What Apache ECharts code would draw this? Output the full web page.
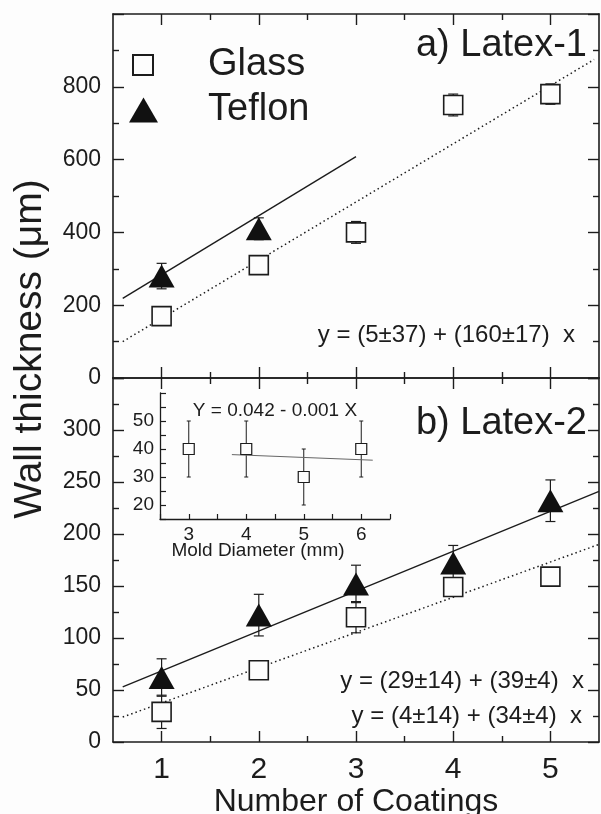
<!DOCTYPE html>
<html>
<head>
<meta charset="utf-8">
<script src="https://cdn.jsdelivr.net/npm/echarts@6/dist/echarts.min.js"></script>
<style>
  html, body { margin: 0; padding: 0; background: #fdfdfd; }
  #chart { width: 601px; height: 814px; }
</style>
</head>
<body>
<div id="chart"></div>
<script>
// data
const coatings = [1, 2, 3, 4, 5];

// a) Latex-1
const glassA = [170, 310, 400, 750, 780];
const glassAErr = [18, 15, 30, 30, 28];
const teflonAX = [1, 2];
const teflonA = [280, 410];
const teflonAErr = [35, 30];
const fitGlassA = [[0.6, 100], [5.45, 875]];
const fitTeflonA = [[0.6, 219], [3.0, 608]];

// b) Latex-2
const glassB = [29, 69, 120, 149, 159];
const glassBErr = [16, 8, 15, 8, 8];
const teflonB = [62, 122, 152, 172, 232];
const teflonBErr = [18, 20, 18, 17, 20];
const fitGlassB = [[0.6, 24], [5.5, 190]];
const fitTeflonB = [[0.6, 53], [5.5, 241]];

// inset
const moldDiam = [3, 4, 5, 6];
const insetVals = [40, 40, 30, 40];
const insetErr = [10, 10, 10, 10];
const insetFit = [[3.75, 38], [6.2, 36]];

// tick labels
const xTicksMajor = [1, 2, 3, 4, 5];
const xTicksMinor = [1.5, 2.5, 3.5, 4.5];
const insetYLabels = [20, 30, 40, 50];

const FONT = "'Liberation Sans', Arial, Helvetica, sans-serif";
const INK = '#1c1c1c';
const PAPER = '#fdfdfd';

function pts(xs, ys) {
    let out = [];
    for (let i = 0; i < xs.length; i++) {
        out.push([xs[i], ys[i]]);
    }
    return out;
}

function errData(xs, ys, es) {
    let out = [];
    for (let i = 0; i < xs.length; i++) {
        out.push([xs[i], ys[i], es[i]]);
    }
    return out;
}

function errSeries(data, xi, yi, capHalf, width) {
    return {
        type: 'custom',
        xAxisIndex: xi,
        yAxisIndex: yi,
        z: 1,
        silent: true,
        data: data,
        renderItem: function (params, api) {
            const x = api.value(0), y = api.value(1), e = api.value(2);
            const hi = api.coord([x, y + e]);
            const lo = api.coord([x, y - e]);
            const st = {stroke: INK, lineWidth: width};
            return {
                type: 'group',
                children: [
                    {type: 'line', shape: {x1: hi[0], y1: hi[1], x2: lo[0], y2: lo[1]}, style: st},
                    {type: 'line', shape: {x1: hi[0] - capHalf, y1: hi[1], x2: hi[0] + capHalf, y2: hi[1]}, style: st},
                    {type: 'line', shape: {x1: lo[0] - capHalf, y1: lo[1], x2: lo[0] + capHalf, y2: lo[1]}, style: st}
                ]
            };
        }
    };
}

// x axis pair (major / minor ticks) for one edge of a panel
function xEdge(grid, pos, major, showLabel) {
    let ax = {
        type: 'value',
        gridIndex: grid,
        position: pos,
        min: 0.5,
        max: 5.5,
        interval: 0.5,
        splitLine: {show: false},
        axisLine: {show: major, lineStyle: {color: INK, width: 1.6}},
        axisTick: {
            show: true,
            inside: true,
            length: major ? 11 : 6,
            customValues: major ? xTicksMajor : xTicksMinor,
            lineStyle: {color: INK, width: 1.4}
        },
        axisLabel: {show: false}
    };
    if (showLabel) {
        ax.axisLabel = {
            show: true,
            customValues: xTicksMajor,
            fontSize: 30,
            fontFamily: FONT,
            color: INK,
            margin: 13
        };
        ax.name = 'Number of Coatings';
        ax.nameLocation = 'middle';
        ax.nameGap = 40;
        ax.nameTextStyle = {fontSize: 32, fontFamily: FONT, color: INK};
    }
    return ax;
}

function yEdge(grid, pos, max, interval, showLabel) {
    return {
        type: 'value',
        gridIndex: grid,
        position: pos,
        min: 0,
        max: max,
        interval: interval,
        splitLine: {show: false},
        axisLine: {show: true, lineStyle: {color: INK, width: 1.6}},
        axisTick: {show: true, inside: true, length: 11, lineStyle: {color: INK, width: 1.4}},
        minorTick: {show: true, splitNumber: 2, length: 6, lineStyle: {color: INK, width: 1.4}},
        axisLabel: {
            show: showLabel,
            fontSize: 23,
            fontFamily: FONT,
            color: INK,
            margin: 12,
            formatter: function (v) {
                return v === max ? '' : String(v);
            }
        }
    };
}

const chart = echarts.init(document.getElementById('chart'));

const glassStyle = {color: PAPER, borderColor: INK, borderWidth: 1.6, opacity: 1};
const teflonStyle = {color: '#111', opacity: 1};

const option = {
    backgroundColor: PAPER,
    animation: false,
    textStyle: {fontFamily: FONT},
    grid: [
        {left: 113, top: 14, width: 486, height: 364, outerBoundsMode: 'none', containLabel: false},
        {left: 113, top: 378, width: 486, height: 364, outerBoundsMode: 'none', containLabel: false},
        {left: 160, top: 393, width: 230, height: 126, outerBoundsMode: 'none', containLabel: false}
    ],
    legend: [
        {
            data: ['Glass'],
            selectedMode: false,
            left: 132, top: 45, padding: 0,
            itemWidth: 20, itemHeight: 20,
            itemStyle: {opacity: 1},
            textStyle: {fontSize: 38, fontFamily: FONT, color: INK, padding: [0, 0, 0, 50], lineHeight: 40}
        },
        {
            data: ['Teflon'],
            selectedMode: false,
            left: 129, top: 90, padding: 0,
            itemWidth: 29, itemHeight: 25,
            itemStyle: {opacity: 1},
            textStyle: {fontSize: 38, fontFamily: FONT, color: INK, padding: [0, 0, 0, 45], lineHeight: 40}
        }
    ],
    xAxis: [
        xEdge(0, 'bottom', true, false),
        xEdge(0, 'bottom', false, false),
        xEdge(0, 'top', true, false),
        xEdge(0, 'top', false, false),
        xEdge(1, 'bottom', true, true),
        xEdge(1, 'bottom', false, false),
        xEdge(1, 'top', true, false),
        xEdge(1, 'top', false, false),
        {
            type: 'value',
            gridIndex: 2,
            min: 2.5,
            max: 6.5,
            interval: 0.5,
            splitLine: {show: false},
            axisLine: {show: true, lineStyle: {color: INK, width: 1.3}},
            axisTick: {show: true, inside: true, length: 5, lineStyle: {color: INK, width: 1.2}},
            axisLabel: {
                fontSize: 19, fontFamily: FONT, color: INK, margin: 6,
                formatter: function (v) {
                    return (v % 1 === 0) ? String(v) : '';
                }
            }
        }
    ],
    yAxis: [
        yEdge(0, 'left', 1000, 200, true),
        yEdge(0, 'right', 1000, 200, false),
        yEdge(1, 'left', 350, 50, true),
        yEdge(1, 'right', 350, 50, false),
        {
            type: 'value',
            gridIndex: 2,
            min: 15,
            max: 60,
            interval: 5,
            splitLine: {show: false},
            axisLine: {show: true, lineStyle: {color: INK, width: 1.3}},
            axisTick: {show: true, inside: true, length: 6, lineStyle: {color: INK, width: 1.2}},
            axisLabel: {
                fontSize: 19, fontFamily: FONT, color: INK, margin: 6,
                formatter: function (v) {
                    return insetYLabels.indexOf(v) >= 0 ? String(v) : '';
                }
            }
        }
    ],
    series: [
        // panel a
        {
            type: 'line', xAxisIndex: 0, yAxisIndex: 0, data: fitGlassA,
            symbol: 'none', silent: true, z: 1,
            lineStyle: {color: INK, width: 1.5, type: [1.5, 3]}
        },
        {
            type: 'line', xAxisIndex: 0, yAxisIndex: 0, data: fitTeflonA,
            symbol: 'none', silent: true, z: 1,
            lineStyle: {color: INK, width: 1.4}
        },
        errSeries(errData(coatings, glassA, glassAErr), 0, 0, 5, 1.2),
        errSeries(errData(teflonAX, teflonA, teflonAErr), 0, 0, 5, 1.2),
        {
            name: 'Glass', type: 'scatter', xAxisIndex: 0, yAxisIndex: 0,
            data: pts(coatings, glassA), symbol: 'rect', symbolSize: 19, z: 3,
            itemStyle: glassStyle
        },
        {
            name: 'Teflon', type: 'scatter', xAxisIndex: 0, yAxisIndex: 0,
            data: pts(teflonAX, teflonA), symbol: 'triangle', symbolSize: [26, 23], z: 3,
            itemStyle: teflonStyle
        },
        // panel b
        {
            type: 'line', xAxisIndex: 4, yAxisIndex: 2, data: fitGlassB,
            symbol: 'none', silent: true, z: 1,
            lineStyle: {color: INK, width: 1.5, type: [1.5, 3]}
        },
        {
            type: 'line', xAxisIndex: 4, yAxisIndex: 2, data: fitTeflonB,
            symbol: 'none', silent: true, z: 1,
            lineStyle: {color: INK, width: 1.4}
        },
        errSeries(errData(coatings, glassB, glassBErr), 4, 2, 5, 1.2),
        errSeries(errData(coatings, teflonB, teflonBErr), 4, 2, 5, 1.2),
        {
            name: 'Glass', type: 'scatter', xAxisIndex: 4, yAxisIndex: 2,
            data: pts(coatings, glassB), symbol: 'rect', symbolSize: 19, z: 3,
            itemStyle: glassStyle
        },
        {
            name: 'Teflon', type: 'scatter', xAxisIndex: 4, yAxisIndex: 2,
            data: pts(coatings, teflonB), symbol: 'triangle', symbolSize: [26, 23], z: 3,
            itemStyle: teflonStyle
        },
        // inset
        {
            type: 'line', xAxisIndex: 8, yAxisIndex: 4, data: insetFit,
            symbol: 'none', silent: true, z: 1,
            lineStyle: {color: '#666', width: 1}
        },
        errSeries(errData(moldDiam, insetVals, insetErr), 8, 4, 2, 1),
        {
            type: 'scatter', xAxisIndex: 8, yAxisIndex: 4,
            data: pts(moldDiam, insetVals), symbol: 'rect', symbolSize: 11, z: 3,
            itemStyle: {color: PAPER, borderColor: INK, borderWidth: 1.2, opacity: 1}
        }
    ],
    graphic: [
        {
            type: 'text', x: 30, y: 349, rotation: Math.PI / 2,
            style: {text: 'Wall thickness (μm)', font: '39px ' + FONT, fill: INK, align: 'center', verticalAlign: 'middle'}
        },
        {
            type: 'text', x: 587, y: 46,
            style: {text: 'a) Latex-1', font: '38px ' + FONT, fill: INK, align: 'right', verticalAlign: 'middle'}
        },
        {
            type: 'text', x: 587, y: 424,
            style: {text: 'b) Latex-2', font: '38px ' + FONT, fill: INK, align: 'right', verticalAlign: 'middle'}
        },
        {
            type: 'text', x: 575, y: 335,
            style: {text: 'y = (5±37) + (160±17)  x', font: '24px ' + FONT, fill: INK, align: 'right', verticalAlign: 'middle'}
        },
        {
            type: 'text', x: 584, y: 681,
            style: {text: 'y = (29±14) + (39±4)  x', font: '24px ' + FONT, fill: INK, align: 'right', verticalAlign: 'middle'}
        },
        {
            type: 'text', x: 582, y: 716,
            style: {text: 'y = (4±14) + (34±4)  x', font: '24px ' + FONT, fill: INK, align: 'right', verticalAlign: 'middle'}
        },
        {
            type: 'text', x: 275, y: 411,
            style: {text: 'Y = 0.042 - 0.001 X', font: '19px ' + FONT, fill: INK, align: 'center', verticalAlign: 'middle'}
        },
        {
            type: 'text', x: 258, y: 551,
            style: {text: 'Mold Diameter (mm)', font: '19px ' + FONT, fill: INK, align: 'center', verticalAlign: 'middle'}
        }
    ]
};

chart.setOption(option);
</script>
</body>
</html>
